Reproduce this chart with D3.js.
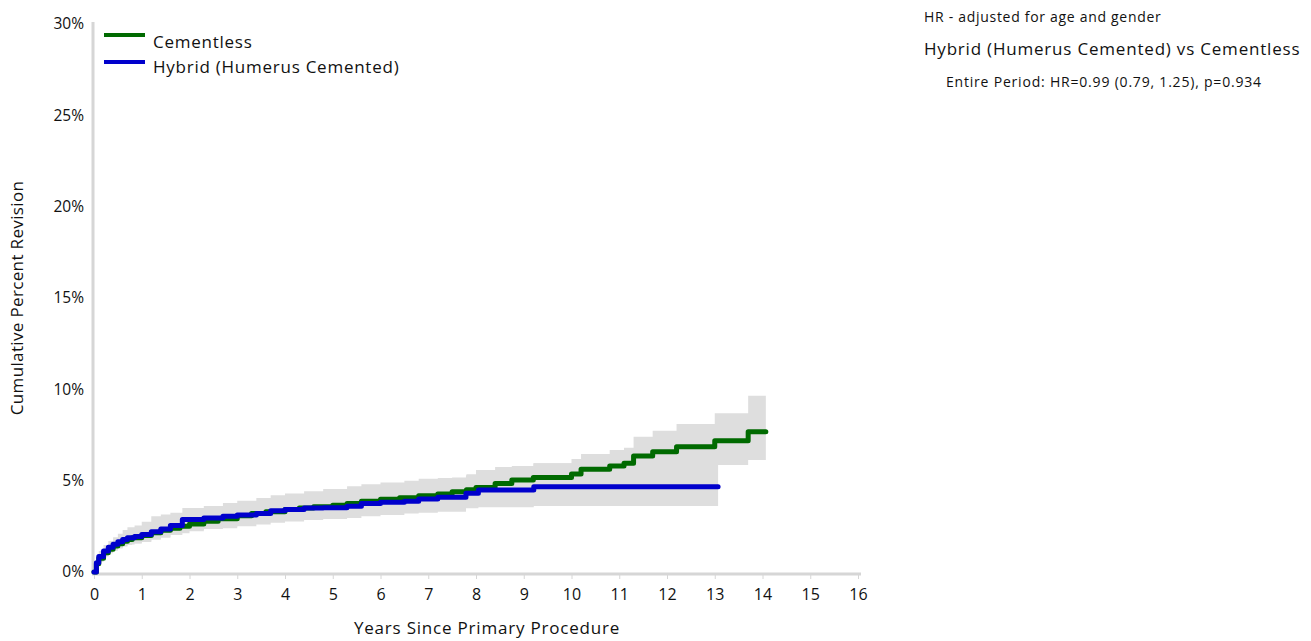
<!DOCTYPE html>
<html>
<head>
<meta charset="utf-8">
<script src="https://cdn.jsdelivr.net/npm/d3@7"></script>
<style>
  body { margin: 0; background: #fff; }
  text { font-family: "Open Sans", "Noto Sans", sans-serif; fill: #111; }
</style>
</head>
<body>
<svg id="chart" width="1311" height="641"></svg>
<script>
// rows: [years, cumulative %, lower CI, upper CI]
const cementless = [
  [0, 0, 0, 0], [0.05, 0.45, 0.3, 0.65], [0.1, 0.75, 0.55, 1.0], [0.2, 1.05, 0.85, 1.3],
  [0.3, 1.25, 1.02, 1.5], [0.4, 1.42, 1.17, 1.68], [0.5, 1.55, 1.28, 1.83], [0.6, 1.68, 1.4, 1.98],
  [0.7, 1.78, 1.48, 2.1], [0.8, 1.88, 1.57, 2.22], [1.0, 2.0, 1.68, 2.36], [1.2, 2.15, 1.8, 2.52],
  [1.4, 2.28, 1.92, 2.66], [1.6, 2.4, 2.02, 2.8], [1.8, 2.5, 2.12, 2.92], [2.0, 2.63, 2.23, 3.08],
  [2.3, 2.78, 2.36, 3.25], [2.6, 2.92, 2.48, 3.38], [3.0, 3.08, 2.6, 3.58], [3.3, 3.2, 2.7, 3.72],
  [3.6, 3.3, 2.78, 3.84], [4.0, 3.42, 2.88, 3.98], [4.3, 3.5, 2.94, 4.08], [4.6, 3.57, 3.0, 4.16],
  [5.0, 3.65, 3.06, 4.26], [5.3, 3.75, 3.12, 4.38], [5.6, 3.87, 3.22, 4.5], [6.0, 3.98, 3.28, 4.65],
  [6.4, 4.07, 3.34, 4.8], [6.8, 4.17, 3.4, 4.92], [7.2, 4.27, 3.46, 5.05], [7.5, 4.39, 3.56, 5.18],
  [7.8, 4.5, 3.65, 5.35], [8.0, 4.63, 3.75, 5.58], [8.4, 4.85, 3.93, 5.75], [8.75, 5.03, 4.08, 5.8],
  [9.2, 5.18, 4.2, 5.95], [10.0, 5.36, 4.35, 6.18], [10.2, 5.62, 4.56, 6.46], [10.8, 5.8, 4.71, 6.68],
  [11.1, 5.95, 4.83, 6.8], [11.3, 6.35, 5.15, 7.4], [11.7, 6.58, 5.35, 7.73], [12.2, 6.86, 5.6, 8.1],
  [13.0, 7.19, 5.86, 8.69], [13.7, 7.68, 6.13, 9.65], [14.07, 7.68, 6.13, 9.65]
];
const hybrid = [
  [0, 0, 0, 0], [0.05, 0.5, 0.3, 0.75], [0.1, 0.85, 0.6, 1.15], [0.2, 1.15, 0.88, 1.48],
  [0.3, 1.35, 1.05, 1.7], [0.4, 1.52, 1.2, 1.9], [0.5, 1.65, 1.32, 2.1], [0.6, 1.78, 1.42, 2.3],
  [0.7, 1.88, 1.5, 2.45], [0.85, 1.95, 1.56, 2.55], [1.0, 2.05, 1.64, 2.75], [1.2, 2.2, 1.76, 3.05],
  [1.4, 2.35, 1.88, 3.15], [1.6, 2.55, 2.02, 3.25], [1.85, 2.88, 2.3, 3.5], [2.3, 2.95, 2.36, 3.62],
  [2.7, 3.05, 2.4, 3.78], [3.0, 3.12, 2.5, 3.9], [3.4, 3.2, 2.6, 4.05], [3.7, 3.35, 2.7, 4.2],
  [4.0, 3.42, 2.76, 4.3], [4.4, 3.5, 2.84, 4.42], [4.8, 3.52, 2.9, 4.55], [5.3, 3.6, 2.96, 4.7],
  [5.6, 3.75, 3.05, 4.8], [6.0, 3.82, 3.12, 4.9], [6.5, 3.88, 3.2, 5.0], [6.8, 4.0, 3.25, 5.1],
  [7.2, 4.09, 3.3, 5.15], [7.79, 4.31, 3.49, 5.3], [8.05, 4.49, 3.55, 5.5], [9.21, 4.67, 3.61, 5.95],
  [13.07, 4.67, 3.61, 5.95]
];
const seriesNames = ["Cementless", "Hybrid (Humerus Cemented)"];
const seriesColors = ["#006a00", "#0000cc"];
const xTicks = d3.range(0, 17);
const yTicks = [0, 5, 10, 15, 20, 25, 30];

const svg = d3.select("#chart");
const x = d3.scaleLinear().domain([0, 16]).range([94, 858]);
const y = d3.scaleLinear().domain([0, 30]).range([572, 24]);

// confidence bands
const band = d3.area().curve(d3.curveStepAfter)
  .x(d => x(d[0])).y0(d => y(d[2])).y1(d => y(d[3]));
[cementless, hybrid].forEach(s => {
  svg.append("path").attr("d", band(s)).attr("fill", "#dedede");
});

// axes lines
svg.append("line").attr("x1", 93).attr("x2", 93).attr("y1", 22).attr("y2", 574)
  .attr("stroke", "#d6d6d6").attr("stroke-width", 3);
svg.append("line").attr("x1", 92).attr("x2", 861).attr("y1", 574).attr("y2", 574)
  .attr("stroke", "#d6d6d6").attr("stroke-width", 3);

const xAxis = svg.append("g").attr("transform", "translate(0,575)")
  .call(d3.axisBottom(x).tickValues(xTicks).tickSize(4).tickPadding(10).tickFormat(d3.format("d")));
xAxis.select(".domain").remove();
xAxis.selectAll("line").attr("stroke", "#d6d6d6");
xAxis.selectAll("text").style("font-size", "16px").attr("fill", "#111");

const yAxis = svg.append("g").attr("transform", "translate(92,0)")
  .call(d3.axisLeft(y).tickValues(yTicks).tickSize(0).tickPadding(8).tickFormat(d => d + "%"));
yAxis.select(".domain").remove();
yAxis.selectAll("text").style("font-size", "15.5px").attr("fill", "#111");

// step lines
const line = d3.line().curve(d3.curveStepAfter).x(d => x(d[0])).y(d => y(d[1]));
[cementless, hybrid].forEach((s, i) => {
  svg.append("path").attr("d", line(s)).attr("fill", "none")
    .attr("stroke", seriesColors[i]).attr("stroke-width", 5)
    .attr("stroke-linejoin", "round").attr("stroke-linecap", "round");
});

// legend
seriesNames.forEach((name, i) => {
  svg.append("line").attr("x1", 104).attr("x2", 145).attr("y1", 35 + i * 27).attr("y2", 35 + i * 27)
    .attr("stroke", seriesColors[i]).attr("stroke-width", 4);
  svg.append("text").attr("x", 153).attr("y", 48 + i * 25).text(name)
    .style("font-size", "17px").style("letter-spacing", "0.75px");
});

// titles
svg.append("text").attr("x", 487).attr("y", 634).attr("text-anchor", "middle")
  .style("font-size", "17px").style("letter-spacing", "0.8px").text("Years Since Primary Procedure");
svg.append("text").attr("transform", "translate(23,298) rotate(-90)").attr("text-anchor", "middle")
  .style("font-size", "17px").style("letter-spacing", "0.35px").text("Cumulative Percent Revision");

// HR annotation
svg.append("text").attr("x", 924).attr("y", 22).style("font-size", "14px").style("letter-spacing", "0.7px")
  .text("HR - adjusted for age and gender");
svg.append("text").attr("x", 924).attr("y", 55).style("font-size", "17px").style("letter-spacing", "0.8px")
  .text("Hybrid (Humerus Cemented) vs Cementless");
svg.append("text").attr("x", 946).attr("y", 87).style("font-size", "14px").style("letter-spacing", "0.8px")
  .text("Entire Period: HR=0.99 (0.79, 1.25), p=0.934");
</script>
</body>
</html>
